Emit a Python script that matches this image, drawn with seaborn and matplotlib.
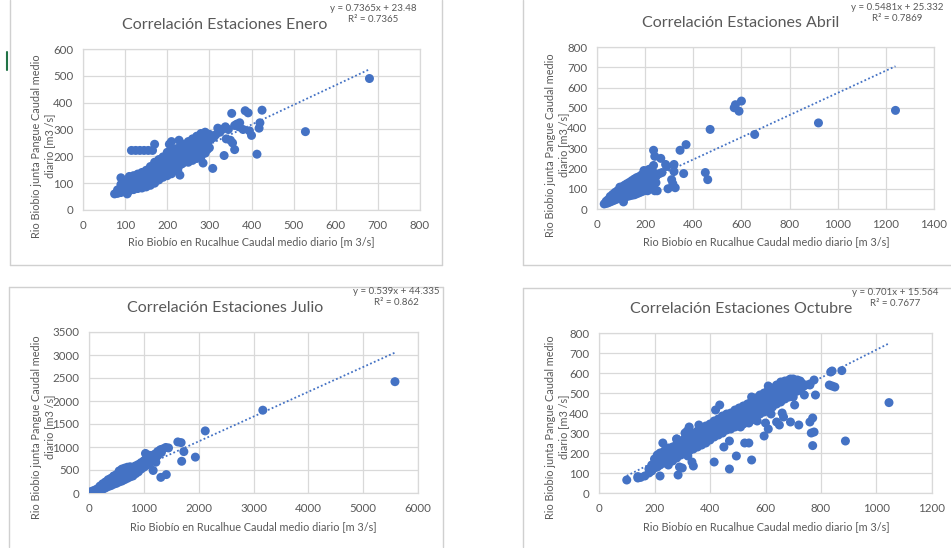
import matplotlib
matplotlib.use("Agg")
import matplotlib.pyplot as plt
from matplotlib.lines import Line2D
import seaborn as sns
import pandas as pd

W, H = 951, 548

BLUE = "#4472C4"
GRID = "#d9d9d9"
TEXT = "#595959"
FRAME = "#d0d0d0"

XLABEL = "Rio Biobío en Rucalhue Caudal medio diario [m 3/s]"
YLABEL = "Rio Biobío junta Pangue Caudal medio\ndiario [m3 /s]"

# ---- data (x = Rucalhue, y = Pangue) ----
enero = [
    (75, 60), (82, 62), (82, 75), (90, 65), (90, 80), (90, 95),
    (100, 68), (100, 85), (100, 100), (100, 110),
    (110, 72), (110, 90), (110, 108), (110, 125),
    (120, 76), (120, 92), (120, 110), (120, 128),
    (130, 80), (130, 98), (130, 116), (130, 134),
    (140, 82), (140, 100), (140, 120), (140, 140),
    (150, 86), (150, 105), (150, 125), (150, 148),
    (160, 92), (160, 115), (160, 140), (160, 162),
    (170, 100), (170, 125), (170, 150), (170, 178),
    (180, 112), (180, 135), (180, 160), (180, 188),
    (190, 122), (190, 145), (190, 170), (190, 198),
    (200, 128), (200, 150), (200, 175), (200, 200), (200, 215),
    (210, 135), (210, 160), (210, 185), (210, 210), (210, 225),
    (220, 150), (220, 175), (220, 200), (220, 228),
    (230, 168), (230, 190), (230, 212), (230, 235),
    (240, 178), (240, 200), (240, 222), (240, 245),
    (250, 178), (250, 205), (250, 230), (250, 255),
    (260, 185), (260, 210), (260, 240), (260, 265),
    (270, 192), (270, 220), (270, 250), (270, 275),
    (280, 198), (280, 230), (280, 260), (280, 285),
    (290, 212), (290, 240), (290, 270), (290, 290),
    (300, 232), (300, 260), (300, 282),
    (86, 70), (95, 72), (95, 88), (105, 77), (105, 95), (115, 80), (115, 100),
    (115, 117), (125, 85), (125, 103), (125, 120), (135, 90), (135, 108),
    (135, 128), (145, 93), (145, 112), (145, 132), (155, 98), (155, 118),
    (155, 138), (165, 105), (165, 128), (165, 152), (175, 112), (175, 138),
    (175, 165), (185, 122), (185, 148), (185, 175), (195, 132), (195, 158),
    (195, 185), (205, 140), (205, 165), (205, 190), (215, 145), (215, 172),
    (215, 198), (215, 218), (225, 162), (225, 188), (225, 215), (235, 172),
    (235, 200), (235, 225), (245, 185), (245, 212), (245, 235), (255, 192),
    (255, 218), (255, 245), (265, 198), (265, 228), (265, 255), (275, 205),
    (275, 235), (275, 262), (285, 215), (285, 245), (285, 275), (295, 225),
    (295, 255), (295, 280),
    (115, 222), (125, 222), (135, 222), (145, 222), (155, 222), (165, 222),
    (170, 245), (205, 245), (210, 255), (228, 260), (90, 120), (105, 60),
    (680, 490), (528, 292), (425, 372), (385, 370), (392, 362), (353, 360),
    (420, 325), (418, 305), (395, 295), (400, 278), (413, 208), (360, 225),
    (335, 203), (308, 155), (365, 320), (370, 310), (345, 300), (330, 300),
    (320, 305), (380, 300), (340, 265), (350, 260), (355, 250), (310, 270),
    (285, 175), (230, 130), (205, 140), (225, 150), (360, 315), (372, 325),
    (315, 280), (325, 290), (338, 310),
]

abril = [
    (30, 25), (38, 28), (38, 38), (45, 30), (45, 45),
    (55, 35), (55, 50), (55, 62), (65, 40), (65, 55), (65, 72),
    (75, 45), (75, 62), (75, 82), (85, 50), (85, 70), (85, 90),
    (95, 55), (95, 75), (95, 95), (95, 108),
    (105, 50), (105, 72), (105, 92), (105, 110),
    (115, 58), (115, 80), (115, 100), (115, 118),
    (125, 62), (125, 85), (125, 105), (125, 125),
    (135, 65), (135, 90), (135, 112), (135, 132),
    (145, 68), (145, 95), (145, 118), (145, 140),
    (155, 70), (155, 100), (155, 125), (155, 148),
    (165, 75), (165, 105), (165, 130), (165, 155),
    (175, 80), (175, 110), (175, 135), (175, 160),
    (185, 85), (185, 115), (185, 140), (185, 168),
    (195, 90), (195, 120), (195, 148), (195, 175), (195, 190),
    (205, 95), (205, 125), (205, 150), (205, 180),
    (215, 100), (215, 130), (215, 160), (215, 195),
    (225, 110), (225, 140), (225, 170), (225, 200),
    (235, 120), (235, 150), (235, 180), (235, 215),
    (245, 130), (245, 160),
    (1240, 487), (920, 425), (655, 368), (600, 533), (575, 515), (570, 500),
    (590, 483), (470, 393), (370, 318), (345, 290), (235, 290), (240, 260),
    (265, 250), (320, 220), (285, 220), (290, 210), (320, 185), (360, 175),
    (450, 180), (460, 145), (310, 145), (315, 125), (325, 105), (295, 100),
    (250, 90), (240, 90), (270, 180), (260, 175), (110, 35), (210, 90),
]

julio = [
    (20, 0), (20, 20), (60, 10), (60, 40), (100, 20), (100, 60),
    (150, 40), (150, 90), (200, 60), (200, 110), (200, 150),
    (250, 80), (250, 140), (250, 200), (300, 110), (300, 170), (300, 240),
    (350, 140), (350, 210), (350, 290), (400, 160), (400, 240), (400, 320),
    (450, 190), (450, 280), (450, 370), (500, 210), (500, 300), (500, 400),
    (550, 240), (550, 330), (550, 430), (550, 480),
    (600, 260), (600, 360), (600, 450), (600, 520),
    (650, 290), (650, 400), (650, 490), (650, 540),
    (700, 320), (700, 430), (700, 520), (700, 560),
    (750, 350), (750, 450), (750, 540), (750, 570),
    (800, 370), (800, 470), (800, 560), (850, 420), (850, 520), (850, 590),
    (900, 460), (900, 560), (900, 620), (950, 520), (950, 600), (950, 660),
    (1000, 560), (1000, 640), (1000, 700), (1050, 600), (1050, 700), (1050, 760),
    (1100, 640), (1100, 740), (1100, 800), (1150, 700), (1150, 780),
    (1200, 760), (1200, 840), (1260, 820), (1260, 880), (1320, 880), (1320, 940),
    (5580, 2420), (3170, 1800), (2120, 1350), (1620, 1110), (1680, 1095),
    (1730, 900), (1690, 690), (1940, 780), (1410, 400), (1310, 340),
    (1170, 490), (1400, 990), (1450, 980), (1350, 960), (1300, 940),
    (1250, 900), (1220, 670), (1030, 860), (1100, 820), (1180, 830),
]

octubre = [
    (100, 65), (140, 75), (140, 82), (150, 78), (165, 85),
    (180, 100), (180, 120), (190, 110), (190, 140),
    (200, 125), (200, 150), (200, 170), (210, 130), (210, 160), (210, 190),
    (220, 140), (220, 175), (220, 200), (235, 150), (235, 185), (235, 210),
    (250, 140), (250, 170), (250, 200), (250, 225), (265, 160), (265, 195), (265, 230),
    (280, 175), (280, 210), (280, 245), (280, 270), (295, 190), (295, 225), (295, 260),
    (310, 200), (310, 240), (310, 275), (310, 300), (325, 210), (325, 250), (325, 290), (325, 330),
    (340, 220), (340, 260), (340, 300), (355, 230), (355, 270), (355, 310),
    (370, 240), (370, 285), (370, 325), (385, 250), (385, 295), (385, 335),
    (400, 265), (400, 305), (400, 345), (415, 280), (415, 320), (415, 360),
    (430, 290), (430, 330), (430, 370), (445, 300), (445, 345), (445, 385),
    (460, 315), (460, 355), (460, 395), (475, 320), (475, 365), (475, 400),
    (490, 330), (490, 375), (490, 415), (505, 340), (505, 385), (505, 425),
    (520, 345), (520, 395), (520, 435), (535, 355), (535, 405), (535, 445),
    (550, 365), (550, 415), (550, 460), (550, 480), (565, 380), (565, 430), (565, 475),
    (580, 395), (580, 445), (580, 490), (595, 405), (595, 455), (595, 500),
    (610, 420), (610, 470), (610, 515), (610, 535), (625, 430), (625, 480), (625, 525),
    (640, 445), (640, 495), (640, 540), (655, 455), (655, 505), (655, 555),
    (670, 470), (670, 515), (670, 560), (685, 480), (685, 525), (685, 565),
    (700, 495), (700, 535), (700, 570), (715, 510), (715, 545), (715, 565),
    (730, 525), (730, 550), (745, 540), (760, 545),
    (205, 140), (215, 175), (228, 160), (242, 195), (258, 185), (272, 220),
    (288, 200), (288, 235), (302, 215), (302, 255), (318, 225), (318, 265),
    (318, 310), (332, 240), (332, 280), (348, 245), (348, 285), (362, 255),
    (362, 300), (378, 265), (378, 310), (392, 280), (392, 320), (408, 290),
    (408, 335), (422, 300), (422, 345), (438, 310), (438, 355), (452, 325),
    (452, 370), (468, 335), (468, 380), (482, 345), (482, 390), (498, 355),
    (498, 400), (512, 365), (512, 410), (528, 375), (528, 420), (542, 385),
    (542, 430), (558, 395), (558, 445), (572, 410), (572, 460), (588, 420),
    (588, 470), (602, 435), (602, 485), (618, 445), (618, 495), (632, 460),
    (632, 510), (648, 470), (648, 520), (662, 490), (662, 535), (678, 500),
    (678, 545), (692, 510), (692, 550), (708, 520), (708, 555), (722, 530),
    (738, 535), (725, 560), (690, 570),
    (1045, 452), (888, 260), (770, 237), (770, 375), (760, 355), (765, 300),
    (775, 305), (720, 340), (690, 355), (650, 340), (660, 400), (665, 380),
    (705, 440), (595, 285), (610, 320), (550, 165), (470, 120), (495, 185),
    (415, 155), (285, 90), (220, 85), (230, 250), (280, 270), (290, 130),
    (300, 125), (320, 185), (335, 155), (340, 135), (360, 340), (435, 440),
    (420, 415), (830, 540), (840, 535), (850, 530), (835, 605), (840, 610),
    (875, 612), (780, 490), (775, 565), (760, 540), (740, 490), (700, 480),
    (620, 395), (540, 250), (525, 250), (450, 230), (470, 260), (510, 330),
    (540, 350), (570, 360), (600, 350), (640, 355),
]

# trend line coefficients as printed on the charts
panels = [
    dict(name="Enero", pts=enero, slope=0.7365, icpt=23.48,
         eq="y = 0.7365x + 23.48", r2="R² = 0.7365",
         xmax=800, xstep=100, ymax=600, ystep=100),
    dict(name="Abril", pts=abril, slope=0.5481, icpt=25.332,
         eq="y = 0.5481x + 25.332", r2="R² = 0.7869",
         xmax=1400, xstep=200, ymax=800, ystep=100),
    dict(name="Julio", pts=julio, slope=0.539, icpt=44.335,
         eq="y = 0.539x + 44.335", r2="R² = 0.862",
         xmax=6000, xstep=1000, ymax=3500, ystep=500),
    dict(name="Octubre", pts=octubre, slope=0.701, icpt=15.564,
         eq="y = 0.701x + 15.564", r2="R² = 0.7677",
         xmax=1200, xstep=200, ymax=800, ystep=100),
]

# pixel layout: plot box (left, top, right, bottom), title, equation, labels
layout = [
    dict(box=(83, 49, 420, 210), title=(225, 25), eq=(373, 14),
         xl=(251, 242), yl=(43, 146)),
    dict(box=(597, 47, 934, 209), title=(741, 23), eq=(897, 13),
         xl=(766, 242), yl=(557, 145)),
    dict(box=(89, 332, 418, 493), title=(225, 308), eq=(396, 297),
         xl=(253, 527), yl=(43, 427)),
    dict(box=(599, 333, 932, 493), title=(741, 309), eq=(895, 298),
         xl=(766, 527), yl=(557, 427)),
]


def fx(px):
    return px / W


def fy(py):
    return 1 - py / H


def frame_line(fig, x0, y0, x1, y1, color=FRAME, lw=1.0):
    fig.add_artist(Line2D([fx(x0), fx(x1)], [fy(y0), fy(y1)],
                          color=color, lw=lw, transform=fig.transFigure))


def draw_panel(fig, p, lay):
    l, t, r, b = lay["box"]
    ax = fig.add_axes([fx(l), fy(b), (r - l) / W, (b - t) / H])

    df = pd.DataFrame(p["pts"], columns=["x", "y"])
    sns.scatterplot(data=df, x="x", y="y", ax=ax, color=BLUE, s=42,
                    edgecolor="none", zorder=3)

    xs = [df["x"].min(), df["x"].max()]
    ys = [p["slope"] * v + p["icpt"] for v in xs]
    ax.plot(xs, ys, linestyle=(0, (1, 1.3)), color=BLUE, lw=1.3, zorder=4)

    ax.set_xlim(0, p["xmax"])
    ax.set_ylim(0, p["ymax"])
    ax.set_xticks(range(0, p["xmax"] + 1, p["xstep"]))
    ax.set_yticks(range(0, p["ymax"] + 1, p["ystep"]))
    ax.set_xlabel("")
    ax.set_ylabel("")
    ax.grid(True, color=GRID, lw=0.9)
    ax.set_axisbelow(True)
    for s in ax.spines.values():
        s.set_color(GRID)
        s.set_linewidth(0.9)
    ax.tick_params(length=0, labelsize=8.3, labelcolor=TEXT, pad=7)

    tx, ty = lay["title"]
    fig.text(fx(tx), fy(ty), "Correlación Estaciones " + p["name"],
             ha="center", va="center", fontsize=11.5, color=TEXT)
    ex, ey = lay["eq"]
    fig.text(fx(ex), fy(ey), p["eq"] + "\n" + p["r2"], ha="center",
             va="center", fontsize=7, color=TEXT, linespacing=1.4)
    xx, xy = lay["xl"]
    fig.text(fx(xx), fy(xy), XLABEL, ha="center", va="center",
             fontsize=7.8, color=TEXT)
    yx, yy = lay["yl"]
    fig.text(fx(yx), fy(yy), YLABEL, ha="center", va="center",
             rotation=90, fontsize=7.8, color=TEXT, multialignment="center")
    return ax


sns.set_theme(style="whitegrid")
plt.rcParams["font.family"] = ["Lato", "DejaVu Sans"]

fig = plt.figure(figsize=(W / 100, H / 100), dpi=100)
fig.patch.set_facecolor("white")

for p, lay in zip(panels, layout):
    draw_panel(fig, p, lay)

# chart frames from the screenshot
frame_line(fig, 10, 0, 10, 265)
frame_line(fig, 442, 0, 442, 265)
frame_line(fig, 10, 265, 442, 265)
frame_line(fig, 523, 0, 523, 265)
frame_line(fig, 523, 265, 951, 265)
frame_line(fig, 9, 287, 443, 287)
frame_line(fig, 9, 287, 9, 547)
frame_line(fig, 443, 287, 443, 547)
frame_line(fig, 523, 288, 951, 288)
frame_line(fig, 523, 288, 523, 547)
frame_line(fig, 7, 52, 7, 70, color="#217346", lw=1.5)

fig.savefig("out.png", dpi=100)
